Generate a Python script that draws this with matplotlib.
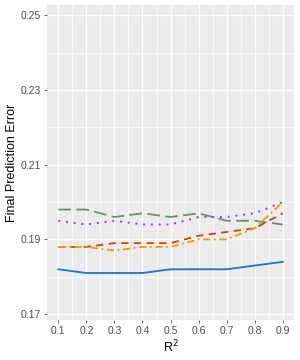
import numpy as np
import matplotlib
matplotlib.use('Agg')
import matplotlib.pyplot as plt

plt.rcParams['font.family'] = ['Liberation Sans', 'DejaVu Sans']

r2 = [0.1, 0.2, 0.3, 0.4, 0.5, 0.6, 0.7, 0.8, 0.9]
err_blue = [0.182, 0.181, 0.181, 0.181, 0.182, 0.182, 0.182, 0.183, 0.184]
err_green = [0.198, 0.198, 0.196, 0.197, 0.196, 0.197, 0.195, 0.195, 0.194]
err_purple = [0.195, 0.194, 0.195, 0.194, 0.194, 0.196, 0.196, 0.197, 0.200]
err_red = [0.188, 0.188, 0.189, 0.189, 0.189, 0.191, 0.192, 0.193, 0.197]
err_orange = [0.188, 0.188, 0.187, 0.188, 0.188, 0.190, 0.190, 0.193, 0.200]

fig = plt.figure(figsize=(3.0, 3.6), dpi=100)
ax = fig.add_axes([0.157, 0.111, 0.823, 0.875])
ax.set_facecolor('#EBEBEB')

# grid like ggplot
for x in np.arange(0.15, 0.9, 0.1):
    ax.axvline(x, color='white', lw=0.5, zorder=0)
for x in r2:
    ax.axvline(x, color='white', lw=1.0, zorder=0)
for y in [0.18, 0.20, 0.22, 0.24]:
    ax.axhline(y, color='white', lw=0.5, zorder=0)
for y in [0.17, 0.19, 0.21, 0.23, 0.25]:
    ax.axhline(y, color='white', lw=1.0, zorder=0)

ax.plot(r2, err_blue, color='#1874CD', lw=1.3, ls='-')
ax.plot(r2, err_green, color='#6B8E6B', lw=1.3, ls=(0, (7, 3)))
ax.plot(r2, err_purple, color='#9B30FF', lw=1.4, ls=(0, (1, 3)))
ax.plot(r2, err_red, color='#D64000', lw=1.3, ls=(0, (4, 3)))
ax.plot(r2, err_orange, color='#E69F00', lw=1.3, ls=(0, (4, 2, 1, 2)))

ax.set_xlim(0.06, 0.94)
ax.set_ylim(0.1684, 0.2528)
ax.set_xticks(r2)
ax.set_xticklabels([f'{v:.1f}' for v in r2])
ax.set_yticks([0.17, 0.19, 0.21, 0.23, 0.25])
ax.set_yticklabels(['0.17', '0.19', '0.21', '0.23', '0.25'])
for s in ax.spines.values():
    s.set_visible(False)
ax.tick_params(colors='#4D4D4D', labelsize=7.5, length=2.5, width=0.6, pad=2)
ax.tick_params(axis='both', labelcolor='#4D4D4D')
ax.set_xlabel('R$^2$', fontsize=9, labelpad=2)
ax.set_ylabel('Final Prediction Error', fontsize=9, labelpad=2)

fig.savefig('out.png', dpi=100)
